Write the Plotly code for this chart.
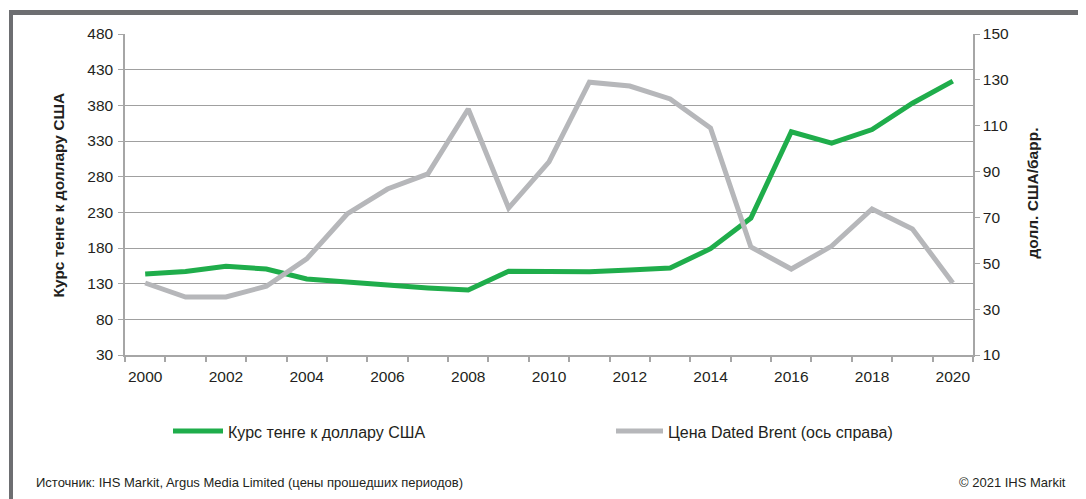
import plotly.graph_objects as go

years = list(range(2000, 2021))
tenge = [143.5, 147, 154.5, 150.5, 136.5, 133, 128, 124, 121, 147.5, 147.4, 146.8, 149, 152,
         179, 222, 343, 327, 346, 383, 414]
brent = [41.4, 35.3, 35.3, 40, 51.9, 71.5, 82.4, 89, 117.3, 74.1, 94.2, 129, 127.3, 121.7,
         109, 57.1, 47.5, 57.5, 73.7, 65, 41.4]
left_ticks = list(range(30, 481, 50))
right_ticks = list(range(10, 151, 20))
x_labels = list(range(2000, 2021, 2))

name_tenge = "Курс тенге к доллару США"
name_brent = "Цена Dated Brent (ось справа)"
green = "#1fad4b"
grey = "#b6b7ba"

OFF = 8  # page body margin
W, H = 1086 - OFF, 499 - OFF
L, R, T, B = 125, 973, 34, 355  # target screen coordinates of the plot area


def px(x):
    return (x - L) / (R - L)


def py(y):
    return (B - y) / (B - T)


fig = go.Figure()
fig.add_trace(go.Scatter(x=years, y=brent, mode="lines", name=name_brent,
                         line=dict(color=grey, width=5), yaxis="y2"))
fig.add_trace(go.Scatter(x=years, y=tenge, mode="lines", name=name_tenge,
                         line=dict(color=green, width=5)))

font = "Liberation Sans, Arial, sans-serif"
fig.update_layout(
    width=W, height=H,
    margin=dict(l=L - OFF, r=W + OFF - R, t=T - OFF, b=H + OFF - B),
    paper_bgcolor="white", plot_bgcolor="white",
    showlegend=False,
    font=dict(family=font, size=15.5, color="#231f20"),
    xaxis=dict(range=[1999.5, 2020.5], tickvals=x_labels, ticktext=[str(v) for v in x_labels],
               ticks="", ticklabelstandoff=7, showgrid=False, zeroline=False, showline=True,
               linecolor="#a6a6a6", linewidth=1.5,
               minor=dict(tickvals=[y - 0.5 for y in years] + [2020.5], ticks="outside",
                          ticklen=5, tickcolor="#a6a6a6", tickwidth=1.5, showgrid=False)),
    yaxis=dict(range=[30, 480], tickvals=left_ticks, ticks="outside", ticklen=5,
               tickcolor="#a6a6a6", showgrid=True, gridcolor="#a0a0a0", gridwidth=1,
               ticklabelstandoff=2,
               zeroline=False, showline=True, linecolor="#a6a6a6", linewidth=1.5),
    yaxis2=dict(range=[10, 150], tickvals=right_ticks, ticks="outside", ticklen=5,
                tickcolor="#a6a6a6", overlaying="y", side="right", showgrid=False,
                zeroline=False, showline=True, linecolor="#a6a6a6", linewidth=1.5),
)

shapes = [
    dict(type="rect", xref="paper", yref="paper", x0=px(9), x1=px(1090), y0=py(15), y1=py(10),
         fillcolor="#6d6e71", line=dict(width=0), layer="above"),
    dict(type="rect", xref="paper", yref="paper", x0=px(9), x1=px(13), y0=py(505), y1=py(10),
         fillcolor="#6d6e71", line=dict(width=0), layer="above"),
    dict(type="line", xref="paper", yref="paper", x0=px(173), x1=px(223), y0=py(431), y1=py(431),
         line=dict(color=green, width=5)),
    dict(type="line", xref="paper", yref="paper", x0=px(616), x1=px(663), y0=py(431), y1=py(431),
         line=dict(color=grey, width=5)),
]
fig.update_layout(shapes=shapes)

ann = [
    dict(text=name_tenge, x=px(226), y=py(432), xanchor="left", yanchor="middle", size=16),
    dict(text=name_brent, x=px(666), y=py(432), xanchor="left", yanchor="middle", size=16),
    dict(text="Источник: IHS Markit, Argus Media Limited (цены прошедших периодов)",
         x=px(34), y=py(482), xanchor="left", yanchor="middle", size=13),
    dict(text="© 2021 IHS Markit", x=px(1068), y=py(482), xanchor="right", yanchor="middle", size=13),
]
annotations = [dict(text=a["text"], x=a["x"], y=a["y"], xref="paper", yref="paper",
                    xanchor=a["xanchor"], yanchor=a["yanchor"], showarrow=False,
                    font=dict(family=font, size=a["size"], color="#231f20")) for a in ann]
annotations.append(dict(text="<b>Курс тенге к доллару США</b>", x=px(48), y=py(195),
                        xref="paper", yref="paper", textangle=-90, showarrow=False,
                        font=dict(family=font, size=15.5, color="#231f20")))
annotations.append(dict(text="<b>долл. США/барр.</b>", x=px(1042), y=py(193),
                        xref="paper", yref="paper", textangle=-90, showarrow=False,
                        font=dict(family=font, size=15.5, color="#231f20")))
fig.update_layout(annotations=annotations)

fig.write_html("out.html")
